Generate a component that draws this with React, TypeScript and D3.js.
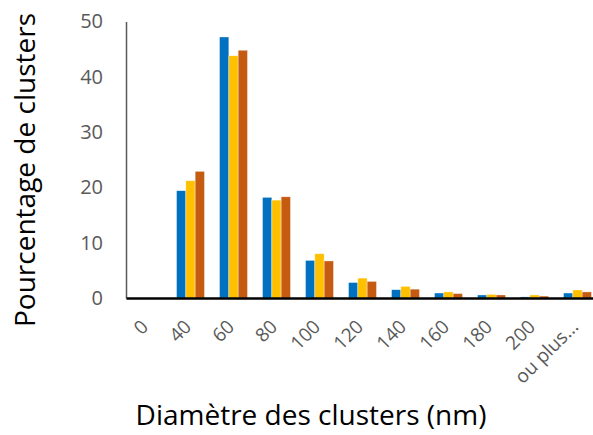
import { useRef, useEffect } from 'react';
import * as d3 from 'd3';

const categories = ['0', '40', '60', '80', '100', '120', '140', '160', '180', '200', 'ou plus...'];
const serieA = [0, 19.4, 47.2, 18.2, 6.8, 2.8, 1.5, 0.9, 0.55, 0.2, 0.9];
const serieB = [0, 21.2, 43.8, 17.7, 8.0, 3.6, 2.1, 1.1, 0.65, 0.55, 1.45];
const serieC = [0, 22.9, 44.8, 18.3, 6.7, 3.0, 1.6, 0.8, 0.55, 0.35, 1.1];
const yTicks = [0, 10, 20, 30, 40, 50];
const colors = ['#0070C0', '#FFC000', '#C55A11'];

export default function App() {
  const ref = useRef<SVGSVGElement>(null);

  useEffect(() => {
    if (!ref.current) return;
    const width = 593;
    const height = 435;
    const font = '"Open Sans", sans-serif';

    const svg = d3.select(ref.current);
    svg.selectAll('*').remove();
    svg.attr('width', width).attr('height', height);

    const series = [serieA, serieB, serieC];

    const x = d3.scaleBand().domain(categories).range([126, 599]).paddingInner(0.35).paddingOuter(0.175);
    const xInner = d3.scaleBand().domain(['0', '1', '2']).range([0, x.bandwidth()]);
    const y = d3.scaleLinear().domain([0, 50]).range([298, 21.5]);

    // bars
    series.forEach((vals, si) => {
      svg
        .append('g')
        .selectAll('rect')
        .data(vals)
        .join('rect')
        .attr('x', (_, i) => (x(categories[i]) || 0) + (xInner(String(si)) || 0))
        .attr('y', (d) => y(d))
        .attr('width', xInner.bandwidth())
        .attr('height', (d) => y(0) - y(d))
        .attr('fill', colors[si])
        .attr('stroke', '#fff')
        .attr('stroke-opacity', 0.6)
        .attr('stroke-width', 0.6);
    });

    // y axis
    const yAxis = svg
      .append('g')
      .attr('transform', 'translate(126,0)')
      .call(d3.axisLeft(y).tickValues(yTicks).tickSize(0).tickPadding(23));
    yAxis.select('.domain').attr('stroke', '#595959').attr('stroke-width', 1.5);
    yAxis
      .selectAll('text')
      .attr('font-family', font)
      .attr('font-size', 20)
      .attr('fill', '#595959');

    // x axis
    const xAxis = svg
      .append('g')
      .attr('transform', `translate(0,${y(0)})`)
      .call(d3.axisBottom(x).tickSize(0).tickPadding(0));
    xAxis.select('.domain').attr('stroke', '#000').attr('stroke-width', 2.5);
    xAxis
      .selectAll('text')
      .attr('font-family', font)
      .attr('font-size', 19)
      .attr('fill', '#595959')
      .attr('text-anchor', 'end')
      .attr('dy', 0)
      .attr('transform', 'translate(2,30) rotate(-45)');

    // titles
    svg
      .append('text')
      .attr('transform', 'translate(35,170) rotate(-90)')
      .attr('text-anchor', 'middle')
      .attr('font-family', font)
      .attr('font-size', 28)
      .attr('fill', '#000')
      .text('Pourcentage de clusters');

    svg
      .append('text')
      .attr('x', 311)
      .attr('y', 425)
      .attr('text-anchor', 'middle')
      .attr('font-family', font)
      .attr('font-size', 28)
      .attr('fill', '#000')
      .text('Diamètre des clusters (nm)');
  }, []);

  return <svg ref={ref} style={{ position: 'absolute', left: 0, top: 0 }}></svg>;
}
